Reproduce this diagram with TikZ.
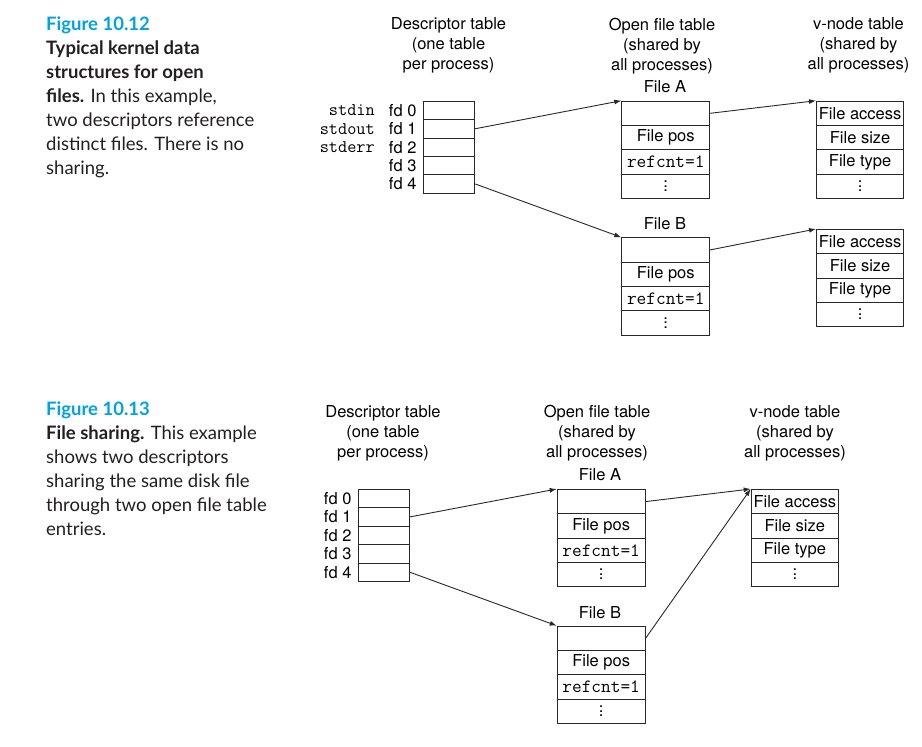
\documentclass[tikz,border=0pt]{standalone}
\usepackage{fontspec}
\setmainfont{TeX Gyre Heros}
\newfontfamily\capfont{Lato}
\usetikzlibrary{arrows.meta}
\definecolor{figcyan}{RGB}{0,162,226}
\definecolor{boxline}{RGB}{40,40,40}
\definecolor{captext}{RGB}{35,31,32}
\newcommand{\rc}{{\fontsize{18.8}{20}\ttfamily\selectfont refcnt=1}}
\newcommand{\vd}{\vbox{\baselineskip=4.6pt\lineskiplimit=-10pt\hbox{.}\hbox{.}\hbox{.}}}
\tikzset{
  lbl/.style={font=\fontsize{16.5}{20}\selectfont, inner sep=0pt},
  ttl/.style={font=\fontsize{17.8}{20}\selectfont\ttfamily, inner sep=0pt},
  head/.style={lbl, align=center, anchor=north},
  cell/.style={draw=boxline, line width=0.9pt, anchor=north west, inner sep=0pt, lbl},
  dcell/.style={cell, minimum width=51.6pt, minimum height=18.4pt},
  ocell/.style={cell, minimum width=88pt, minimum height=24.3pt},
  vcell/.style={cell, minimum width=87.3pt, minimum height=24.3pt},
  ptr/.style={-{Latex[length=7pt,width=5pt]}, line width=0.9pt, draw=boxline},
  figcap/.style={anchor=north west, align=left, inner sep=0pt, text=captext,
    font=\capfont\fontsize{18.5}{24}\selectfont},
}
\begin{document}
\begin{tikzpicture}[x=1pt,y=-1pt]
\useasboundingbox (0,0) rectangle (922,747);
% Figure 10.12
\node[figcap] (cap1) at (46,17) {{\bfseries\color{figcyan}Figure 10.12}\\
  \textbf{Typical kernel data}\\ \textbf{structures for open}\\
  \textbf{files.} In this example,\\ two descriptors reference\\
  distinct files. There is no\\ sharing.};
\node[head] (kdhead) at (448.5,17.5) {Descriptor table\\(one table\\per process)};
\node[head] (kohead) at (662,17.5) {Open file table\\(shared by\\all processes)};
\node[head] (kvhead) at (858.5,17.5) {v-node table\\(shared by\\all processes)};
\foreach \i in {0,...,4}
  \node[dcell] (kd\i) at (422.7,100.7+18.4*\i) {}; %descriptor rows
\foreach \i in {0,...,4}
  \node[lbl, anchor=east] (kfd\i) at (416.7,110.4+18.4*\i) {fd \i};
\foreach \i/\s in {0/stdin,1/stdout,2/stderr}
  \node[ttl, anchor=east] (kstd\i) at (375,110.4+18.4*\i) {\s};
\node[lbl] (kfa) at (665,87) {File A};
\foreach \i/\t in {0/{},1/File pos,2/\rc,3/\vd}
  \node[ocell] (kfa\i) at (621.3,100.7+24.3*\i) {\t}; %open file A
\node[lbl] (kfb) at (665,224) {File B};
\foreach \i/\t in {0/{},1/File pos,2/\rc,3/\vd}
  \node[ocell] (kfb\i) at (621.3,237.3+24.3*\i) {\t}; %open file B
\foreach \i/\t in {0/File access,1/File size,2/File type,3/\vd}
  \node[vcell] (kva\i) at (816,100.7+24.3*\i) {\t}; %v-node A
\foreach \i/\t in {0/File access,1/File size,2/File type,3/\vd}
  \node[vcell] (kvb\i) at (816,229+24.3*\i) {\t}; %v-node B
\draw[ptr] (kd1.east) -- (kfa0.north west);
\draw[ptr] (kd4.east) -- (kfb0.north west);
\draw[ptr] (kfa0.east) -- (kva0.north west);
\draw[ptr] (kfb0.east) -- (kvb0.north west);
% Figure 10.13
\node[figcap] (cap2) at (46,402) {{\bfseries\color{figcyan}Figure 10.13}\\
  \textbf{File sharing.} This example\\ shows two descriptors\\
  sharing the same disk file\\ through two open file table\\ entries.};
\node[head] (sdhead) at (383,405) {Descriptor table\\(one table\\per process)};
\node[head] (sohead) at (597,404.5) {Open file table\\(shared by\\all processes)};
\node[head] (svhead) at (795,405) {v-node table\\(shared by\\all processes)};
\foreach \i in {0,...,4}
  \node[dcell] (sd\i) at (357.7,488.7+18.5*\i) {}; %descriptor rows
\foreach \i in {0,...,4}
  \node[lbl, anchor=east] (sfd\i) at (351.7,498.4+18.5*\i) {fd \i};
\node[lbl] (sfa) at (600,475) {File A};
\foreach \i/\t in {0/{},1/File pos,2/\rc,3/\vd}
  \node[ocell] (sfa\i) at (556.7,489+24.3*\i) {\t}; %open file A
\node[lbl] (sfb) at (600,612.7) {File B};
\foreach \i/\t in {0/{},1/File pos,2/\rc,3/\vd}
  \node[ocell] (sfb\i) at (556.7,625.7+24.3*\i) {\t}; %open file B
\foreach \i/\t in {0/File access,1/File size,2/File type,3/\vd}
  \node[vcell] (sv\i) at (750.7,489+24.3*\i) {\t}; %shared v-node
\draw[ptr] (sd1.east) -- (sfa0.north west);
\draw[ptr] (sd4.east) -- (sfb0.north west);
\draw[ptr] (sfa0.east) -- (sv0.north west);
\draw[ptr] (sfb0.east) -- (sv0.north west);
\end{tikzpicture}
\end{document}
